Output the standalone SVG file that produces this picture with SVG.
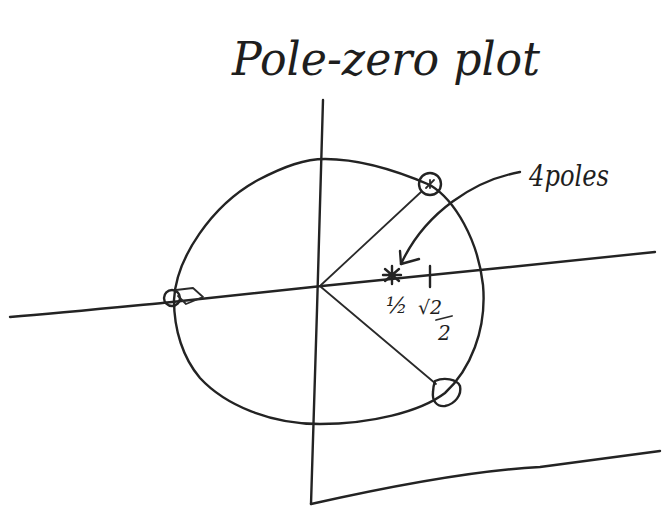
<svg xmlns="http://www.w3.org/2000/svg" width="662" height="506" viewBox="0 0 662 506">
<style>
.ink{fill:none;stroke:#232323;stroke-width:2.4;stroke-linecap:round;stroke-linejoin:round}
.thin{fill:none;stroke:#2a2a2a;stroke-width:1.8;stroke-linecap:round;stroke-linejoin:round}
.hand{font-family:"DejaVu Serif","Liberation Serif",serif;font-style:italic;fill:#1e1e1e}
</style>
<rect width="662" height="506" fill="#ffffff"/>
<g id="title"><text class="hand" x="232" y="75" font-size="46" textLength="308" lengthAdjust="spacingAndGlyphs">Pole-zero plot</text></g>
<g id="axes">
<path class="ink" d="M10,317 C60,313 120,307 172,302 L322,286 L500,268 L655,252"/>
<path class="ink" d="M323,100 L317,310 L311,504"/>
<path class="ink" d="M311,504 C400,484 480,470 540,467 C590,460 630,455 660,451"/>
</g>
<g id="unit-circle">
<path class="ink" d="M174,300 C176,258 212,205 258,180 C285,166 305,159 325,159 C360,159 400,172 430,185 C455,200 478,240 483,285 C487,330 470,370 445,393 C420,412 370,424 320,424 C270,424 225,405 200,378 C183,358 174,330 174,300 Z"/>
</g>
<g id="radii">
<path class="thin" d="M321,285 L421,192"/>
<path class="thin" d="M321,287 L436,384"/>
</g>
<g id="zero-top"><circle class="ink" cx="430" cy="184" r="11"/><path class="thin" d="M426,188 L434,180 M430,180 L430,188"/></g>
<g id="zero-left"><circle class="ink" cx="172" cy="298" r="8"/><path class="thin" d="M176,290 L193,288 L203,297 L186,304 L178,296"/></g>
<g id="zero-bottom"><path class="ink" d="M435,381 C444,377 457,379 460,386 C462,395 455,404 445,406 C436,407 432,400 433,392 C433,388 434,384 435,381 Z"/></g>
<g id="pole"><path class="ink" d="M385,269 L399,281 M399,269 L385,281 M392,266 L392,284 M383,275 L401,275"/></g>
<g id="tick"><path class="ink" d="M430,266 L430,287"/></g>
<g id="tick-labels">
<text class="hand" x="386" y="313" font-size="22">½</text>
<text class="hand" x="418" y="314" font-size="19">√2</text>
<path class="thin" d="M436,320 L452,316"/>
<text class="hand" x="438" y="340" font-size="20">2</text>
</g>
<g id="label-4poles"><text class="hand" x="529" y="186" font-size="30" textLength="80" lengthAdjust="spacingAndGlyphs">4poles</text></g>
<g id="connectors">
<path class="ink" d="M520,172 C475,180 425,212 401,264"/>
<path class="ink" d="M400,251 L401,264 L419,259"/>
</g>
</svg>
